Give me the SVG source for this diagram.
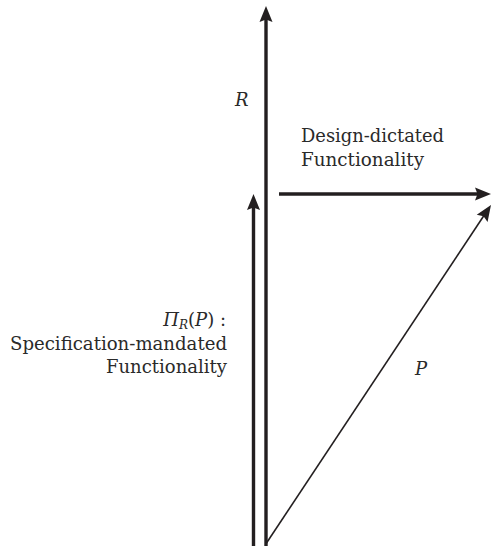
<svg xmlns="http://www.w3.org/2000/svg" width="491" height="546" viewBox="0 0 491 546">
<style>
text{font-family:'DejaVu Serif','Liberation Serif',serif;font-size:18px;fill:#2a2a2a}
.i{font-style:italic}
.ln{stroke:#231f20;fill:none}
</style>
<defs>
<marker id="ah" markerUnits="userSpaceOnUse" markerWidth="20" markerHeight="14" refX="3" refY="6.5" orient="auto" overflow="visible">
<path d="M0,0 L16,6.5 L0,13 L2.5,6.5 Z" fill="#231f20"/>
</marker>
</defs>
<rect width="491" height="546" fill="#fff"/>
<g id="connectors">
<path id="R-axis" class="ln" stroke-width="3.4" d="M266,546 L266,19" marker-end="url(#ah)"/>
<path id="proj" class="ln" stroke-width="3.4" d="M253.5,546 L253.5,207" marker-end="url(#ah)"/>
<path id="design" class="ln" stroke-width="3.4" d="M279,194 L478,194" marker-end="url(#ah)"/>
<path id="P-vec" class="ln" stroke-width="1.6" d="M266.5,543 L483.8,215.8" marker-end="url(#ah)"/>
</g>
<g id="label-R"><text class="i" x="235" y="106">R</text></g>
<g id="label-design">
<text x="301" y="142" textLength="143" lengthAdjust="spacingAndGlyphs">Design-dictated</text>
<text x="301" y="166" textLength="123" lengthAdjust="spacingAndGlyphs">Functionality</text>
</g>
<g id="label-spec">
<text x="226" y="326" text-anchor="end"><tspan class="i">Π</tspan><tspan class="i" font-size="12" dy="3">R</tspan><tspan dy="-3">(</tspan><tspan class="i">P</tspan>) :</text>
<text x="10" y="350" textLength="217" lengthAdjust="spacingAndGlyphs">Specification-mandated</text>
<text x="106" y="373" textLength="121" lengthAdjust="spacingAndGlyphs">Functionality</text>
</g>
<g id="label-P"><text class="i" x="415" y="375">P</text></g>
</svg>
